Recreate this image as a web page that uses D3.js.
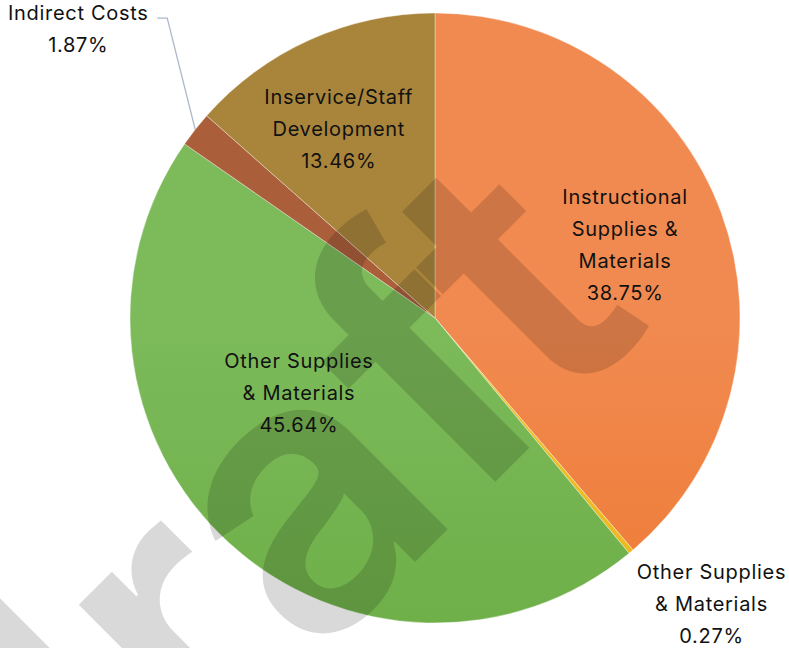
<!DOCTYPE html>
<html>
<head>
<meta charset="utf-8">
<script src="https://cdn.jsdelivr.net/npm/d3@7"></script>
<style>
  html, body { margin: 0; padding: 0; background: #fff; }
  svg { display: block; }
</style>
</head>
<body>
<svg id="chart"></svg>
<script>
// data, clockwise from 12 o'clock
const categories = [
  'Instructional Supplies & Materials',
  'Other Supplies & Materials',
  'Other Supplies & Materials',
  'Indirect Costs',
  'Inservice/Staff Development'
];
const percents = [38.75, 0.27, 45.64, 1.87, 13.46];
const labelLines = [
  ['Instructional', 'Supplies &', 'Materials'],
  ['Other Supplies', '& Materials'],
  ['Other Supplies', '& Materials'],
  ['Indirect Costs'],
  ['Inservice/Staff', 'Development']
];

// styling / layout
const colorsTop = ['#f18a50', '#f0c030', '#7cba5a', '#aa5e3a', '#a9853c'];
const colorsBottom = ['#eb6b1b', '#e8ad00', '#60a436', '#a8461a', '#9e7500'];
// label placement: angle in degrees from top (null = slice middle), radius as fraction of R
const labelPlace = [
  { angle: 68.9, r: 0.668, inside: true },
  { angle: 136, r: 1.305, inside: false },
  { angle: 241, r: 0.51, inside: true },
  { angle: 309, r: 1.505, inside: false, leader: true },
  { angle: 333, r: 0.695, inside: true }
];

const width = 789, height = 648;
const cx = 435, cy = 318, R = 305;
const lineH = 32;

const svg = d3.select('#chart').attr('width', width).attr('height', height);
const defs = svg.append('defs');

percents.forEach((_, i) => {
  const g = defs.append('linearGradient')
    .attr('id', 'grad' + i)
    .attr('gradientUnits', 'userSpaceOnUse')
    .attr('x1', 0).attr('x2', 0)
    .attr('y1', cy - R).attr('y2', cy + R);
  g.append('stop').attr('offset', 0).attr('stop-color', colorsTop[i]);
  g.append('stop').attr('offset', 1).attr('stop-color', colorsBottom[i]);
});

const pie = d3.pie().sort(null).value((d) => d);
const arcs = pie(percents);
const arc = d3.arc().innerRadius(0).outerRadius(R);

const gPie = svg.append('g').attr('transform', `translate(${cx},${cy})`);
gPie.selectAll('path')
  .data(arcs)
  .join('path')
  .attr('d', arc)
  .attr('fill', (d, i) => `url(#grad${i})`)
  .attr('stroke', '#ffffff')
  .attr('stroke-opacity', 0.45)
  .attr('stroke-width', 0.8);

const polar = (deg, r) => {
  const a = (deg * Math.PI) / 180;
  return [Math.sin(a) * r, -Math.cos(a) * r];
};

// leader line for the small outside slice
arcs.forEach((d, i) => {
  const p = labelPlace[i];
  if (!p.leader) return;
  const mid = ((d.startAngle + d.endAngle) / 2) * 180 / Math.PI;
  const edge = polar(mid, R);
  const lab = polar(p.angle, p.r * R);
  const y0 = lab[1] - lineH / 2 + 5;
  gPie.append('polyline')
    .attr('points', [[edge[0], edge[1]], [edge[0] - 28, y0], [edge[0] - 38, y0]].map((q) => q.join(',')).join(' '))
    .attr('fill', 'none')
    .attr('stroke', '#adb9ca')
    .attr('stroke-width', 1.3);
});

// watermark (drawn under the labels)
svg.append('g')
  .attr('transform', 'translate(655,322) rotate(-45)')
  .append('text')
  .attr('text-anchor', 'end')
  .attr('font-family', 'Inter, sans-serif')
  .attr('font-weight', 600)
  .attr('font-size', 380)
  .attr('fill', '#000')
  .attr('fill-opacity', 0.15)
  .text('draft');

// labels
const gLabels = svg.append('g').attr('transform', `translate(${cx},${cy})`);
arcs.forEach((d, i) => {
  const p = labelPlace[i];
  const mid = ((d.startAngle + d.endAngle) / 2) * 180 / Math.PI;
  const pos = polar(p.angle == null ? mid : p.angle, p.r * R);
  const lines = labelLines[i].concat([d3.format('.2f')(percents[i]) + '%']);
  const t = gLabels.append('text')
    .attr('text-anchor', 'middle')
    .attr('font-family', 'Inter, "Open Sans", sans-serif')
    .attr('font-size', 20)
    .attr('letter-spacing', 0.7)
    .attr('fill', '#111');
  lines.forEach((line, k) => {
    t.append('tspan')
      .attr('x', pos[0])
      .attr('y', pos[1] + (k - (lines.length - 1) / 2) * lineH + 7)
      .text(line);
  });
});
</script>
</body>
</html>
